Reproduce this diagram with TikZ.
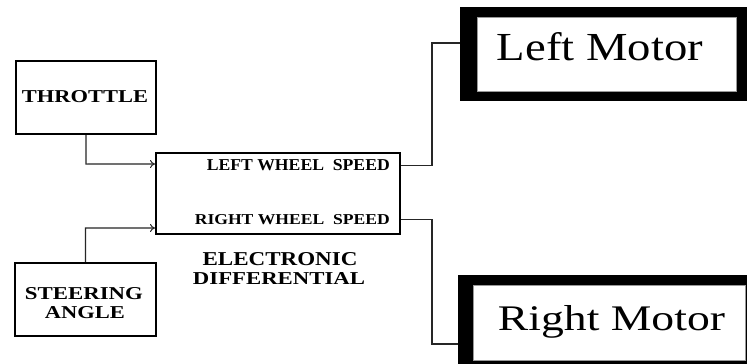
\documentclass[tikz,border=0pt]{standalone}
\usepackage{fontspec}
\setmainfont{Liberation Serif}
\usepackage{graphicx}
\usetikzlibrary{arrows.meta}
\newcommand{\fitbox}[3]{\resizebox{#1pt}{#2pt}{#3}}
\tikzset{
  inbox/.style={draw=black, line width=2.2pt, fill=white, inner sep=0pt},
  lab/.style={inner sep=0pt, font=\bfseries},
  motorlab/.style={inner sep=0pt, anchor=base},
  wire/.style={draw=black!85, line width=1.2pt},
  arr/.style={wire, -{To[length=5pt,width=8pt,line width=1pt]}},
  motorouter/.style={fill=black, draw=none, inner sep=0pt},
  motorinner/.style={fill=white, draw=black!40, line width=0.6pt}
}
\begin{document}
\begin{tikzpicture}[x=1pt,y=-1pt]
\useasboundingbox (0,0) rectangle (747,364);
\clip (0,0) rectangle (747,364);
\fill[white] (0,0) rectangle (747,364);

% input boxes
\node[inbox, minimum width=140pt, minimum height=73pt] (thr) at (86,97.5) {};
\node[lab] (thrl) at (85,97) {\fitbox{126}{12}{THROTTLE}};

\node[inbox, minimum width=141pt, minimum height=73pt] (ste) at (85.5,299.5) {};
\node[lab] (stel1) at (84,294) {\fitbox{118}{12}{STEERING}};
\node[lab] (stel2) at (85,313) {\fitbox{80}{12}{ANGLE}};

% electronic differential
\node[inbox, line width=2pt, minimum width=244pt, minimum height=81pt] (ed) at (278,193.5) {};
\node[lab, anchor=east] (lws) at (390,165.5) {\fitbox{183}{11}{LEFT WHEEL~~SPEED}};
\node[lab, anchor=east] (rws) at (390,219.5) {\fitbox{195}{10}{RIGHT WHEEL~~SPEED}};
\node[lab] (edl1) at (280,259.5) {\fitbox{155}{13}{ELECTRONIC}};
\node[lab] (edl2) at (279,279) {\fitbox{172}{12}{DIFFERENTIAL}};

% motors
\node[motorouter, minimum width=287pt, minimum height=94pt] (lm) at (603.5,54) {};
\fill[white] (477,17) rectangle (736,91);
\draw[motorinner] (477,17) rectangle (736,91);
\node[motorlab] (lml) at (600,60) {\fitbox{206}{28}{Left Motor}};

\node[motorouter, minimum width=302pt, minimum height=138pt] (rm) at (609,344) {};
\fill[white] (473,285) rectangle (745,360);
\draw[motorinner] (473,285) rectangle (745,360);
\node[motorlab] (rml) at (611.5,330) {\fitbox{227}{25}{Right Motor}};

% connectors
\draw[arr] (thr.south) -- ++(0,29) -- (ed.west |- 0,164);
\draw[arr] (ste.north) -- ++(0,-34) -- (ed.west |- 0,228);
\draw[wire] (ed.east |- lws) -- ++(31,0) |- ([yshift=11pt]lm.west);
\draw[wire] (ed.east |- rws) -- ++(31,0) |- (rm.west);
\end{tikzpicture}
\end{document}
